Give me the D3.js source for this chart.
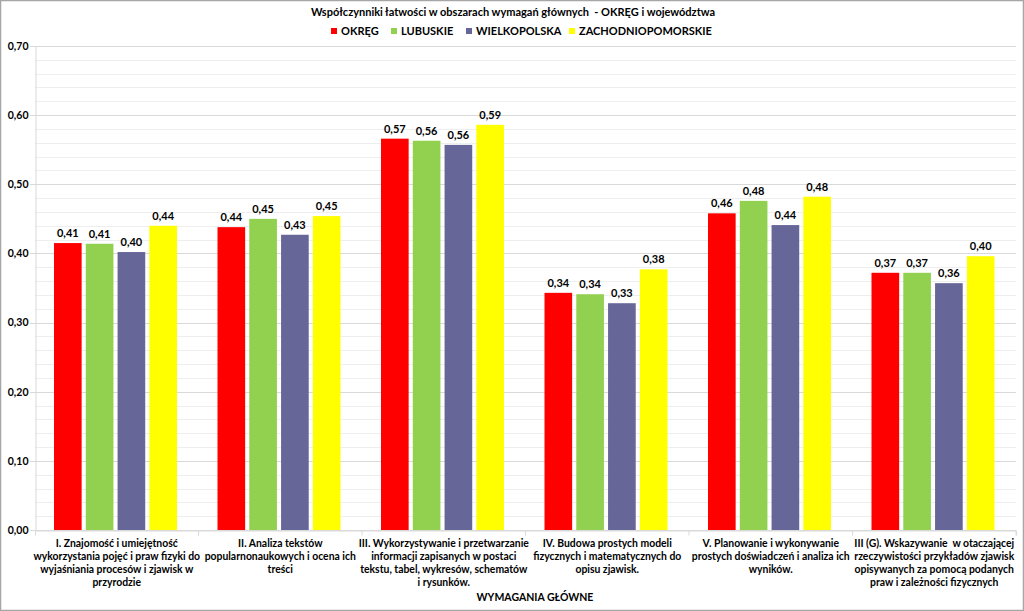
<!DOCTYPE html>
<html><head><meta charset="utf-8">
<script src="https://cdn.jsdelivr.net/npm/d3@7"></script>
<style>body{margin:0;background:#fff;} svg{display:block;font-family:Lato,"Open Sans",sans-serif;}</style>
</head><body><svg id="c" width="1024" height="611"></svg>
<script>
const categories = [
 ["I. Znajomość i umiejętność","wykorzystania pojęć i praw fizyki do","wyjaśniania procesów i zjawisk w","przyrodzie"],
 ["II. Analiza tekstów","popularnonaukowych i ocena ich","treści"],
 ["III. Wykorzystywanie i przetwarzanie","informacji zapisanych w postaci","tekstu, tabel, wykresów, schematów","i rysunków."],
 ["IV. Budowa prostych modeli","fizycznych i matematycznych do","opisu zjawisk."],
 ["V. Planowanie i wykonywanie","prostych doświadczeń i analiza ich","wyników."],
 ["III (G). Wskazywanie  w otaczającej","rzeczywistości przykładów zjawisk","opisywanych za pomocą podanych","praw i zależności fizycznych"]
];
const seriesNames = ["OKRĘG","LUBUSKIE","WIELKOPOLSKA","ZACHODNIOPOMORSKIE"];
const seriesColors = ["#FF0000","#92D050","#666699","#FFFF00"];
const okreg = [0.415,0.438,0.566,0.343,0.458,0.372];
const lubuskie = [0.414,0.450,0.563,0.341,0.476,0.372];
const wielkopolska = [0.402,0.427,0.557,0.328,0.441,0.357];
const zachodniopomorskie = [0.440,0.454,0.586,0.377,0.482,0.396];
const yTicks = [0,0.1,0.2,0.3,0.4,0.5,0.6,0.7];
const series = [okreg,lubuskie,wielkopolska,zachodniopomorskie];

const svg = d3.select("#c");
const L=35, R=1016, T=46, B=530;
const fmt = v => d3.format(".2f")(v).replace(".",",");

svg.append("rect").attr("x",0.5).attr("y",0.5).attr("width",1023).attr("height",610)
  .attr("fill","#fff").attr("stroke","#a6a6a6").attr("stroke-width",1.5);

const y = d3.scaleLinear().domain([0,0.7]).range([B,T]);
const x0 = d3.scaleBand().domain(d3.range(categories.length)).range([L,R]).paddingInner(0).paddingOuter(0);
const x1 = d3.scaleBand().domain(d3.range(seriesNames.length)).range([19,142]).paddingInner(0.13);

const minor = d3.range(0,0.7001,0.02);
svg.append("g").selectAll("line").data(minor).join("line")
  .attr("x1",L).attr("x2",R).attr("y1",d=>Math.round(y(d))+0.5).attr("y2",d=>Math.round(y(d))+0.5)
  .attr("stroke","#eeeeee");
svg.append("g").selectAll("line").data(yTicks).join("line")
  .attr("x1",L-5).attr("x2",R).attr("y1",d=>Math.round(y(d))+0.5).attr("y2",d=>Math.round(y(d))+0.5)
  .attr("stroke","#d9d9d9");

const ya = svg.append("g").attr("transform",`translate(${L+0.5},0)`)
  .call(d3.axisLeft(y).tickValues(yTicks).tickFormat(fmt).tickSize(0).tickPadding(7));
ya.select(".domain").attr("stroke","#d9d9d9");
ya.selectAll("text").attr("font-size",10.5).attr("font-weight","bold").attr("fill","#000").attr("font-family","Lato,sans-serif");

const xa = svg.append("g").attr("transform",`translate(0,${Math.round(B)+0.5})`)
  .call(d3.axisBottom(x0).tickSize(5).tickFormat(""));
xa.select(".domain").attr("stroke","#d9d9d9");
xa.selectAll(".tick line").attr("stroke","#d9d9d9").attr("transform",`translate(${x0.bandwidth()/2},0)`);

const g = svg.append("g");
categories.forEach((c,i)=>{
  series.forEach((s,j)=>{
    const bx = x0(i)+x1(j);
    g.append("rect").attr("x",bx).attr("y",y(s[i])).attr("width",x1.bandwidth()).attr("height",B-y(s[i]))
      .attr("fill",seriesColors[j]);
    g.append("text").attr("x",bx+x1.bandwidth()/2).attr("y",y(s[i])-6).attr("text-anchor","middle")
      .attr("font-size",11).attr("font-weight","bold").text(fmt(s[i]));
  });
  const t = svg.append("text").attr("text-anchor","middle").attr("font-size",10.4).attr("font-weight","bold")
    .style("white-space","pre");
  c.forEach((line,k)=>{
    t.append("tspan").attr("x",x0(i)+x0.bandwidth()/2).attr("y",547+k*13).text(line);
  });
});

svg.append("text").attr("x",513).attr("y",16).attr("text-anchor","middle").attr("font-size",11)
  .attr("font-weight","bold").style("white-space","pre")
  .text("Współczynniki łatwości w obszarach wymagań głównych  - OKRĘG i województwa");
const legX = [331,391,466,569];
seriesNames.forEach((n,j)=>{
  svg.append("rect").attr("x",legX[j]).attr("y",28).attr("width",6).attr("height",6).attr("fill",seriesColors[j]);
  svg.append("text").attr("x",legX[j]+10).attr("y",35).attr("font-size",11).attr("font-weight","bold").text(n);
});
svg.append("text").attr("x",535).attr("y",601).attr("text-anchor","middle").attr("font-size",10.5)
  .attr("font-weight","bold").text("WYMAGANIA GŁÓWNE");
</script></body></html>
